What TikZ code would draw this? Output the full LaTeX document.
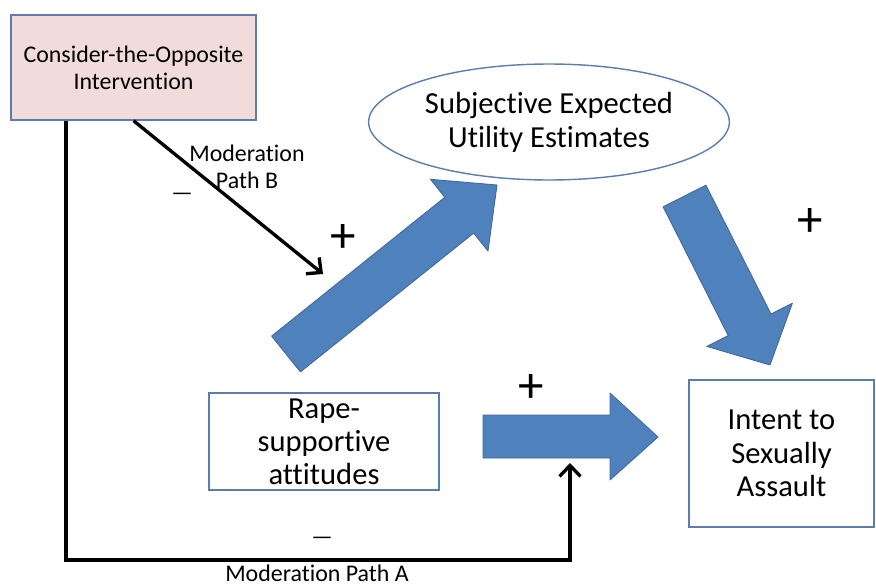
\documentclass[tikz,border=0pt]{standalone}
\usepackage{fontspec}
\setmainfont{Carlito}[Ligatures=NoCommon]
\usetikzlibrary{shapes.geometric,arrows.meta}

\definecolor{boxline}{HTML}{5A7DAE}
\definecolor{pinkfill}{HTML}{F2DCDB}
\definecolor{bigblue}{HTML}{4F81BD}
\definecolor{bigblueline}{HTML}{41699B}

\tikzset{
  varbox/.style={draw=boxline, line width=0.8pt, align=center, inner sep=2pt},
  bigarrow/.style={fill=bigblue, draw=bigblueline, line width=0.5pt, line join=round},
  modarrow/.style={line width=1.9pt, -{Straight Barb[length=2.2mm,width=4.2mm,line width=1.9pt]}},
  sign/.style={font=\fontsize{29}{29}\selectfont, inner sep=0pt},
  minussign/.style={font=\fontsize{13.5}{13.5}\selectfont, inner sep=0pt},
  modlabel/.style={font=\fontsize{13.6}{15.4}\selectfont, align=center, inner sep=0pt}
}

\begin{document}
\begin{tikzpicture}[x=0.02cm, y=-0.02cm]
	\useasboundingbox (0,0) rectangle (876,585);
	% the four variables
	\node[varbox, fill=pinkfill, minimum width=4.9cm, minimum height=2.1cm,
		font=\fontsize{13.6}{15.4}\selectfont] (intervention) at (133.5,67.5) {Consider-the-Opposite\\Intervention};
	\node[varbox, ellipse, minimum width=6.92cm, minimum height=2.32cm,
		font=\fontsize{17.4}{19.4}\selectfont] (utility) at (549,122) {Subjective Expected\\Utility Estimates};
	\node[varbox, minimum width=4.6cm, minimum height=1.94cm,
		font=\fontsize{17.4}{18.8}\selectfont] (attitudes) at (324,441.5) {Rape-\\supportive\\attitudes};
	\node[varbox, minimum width=3.7cm, minimum height=2.94cm,
		font=\fontsize{17.4}{19.2}\selectfont] (intent) at (781.5,453.5) {Intent to\\Sexually\\Assault};

	% block arrows
	\draw[bigarrow] (271.6,336.1) -- (444.8,197.3) -- (430.5,179.3) -- (497,185)
		-- (488,251.1) -- (473.6,233.1) -- (300.4,371.9) -- cycle;
	\draw[bigarrow] (663.1,206.8) -- (728.2,335.6) -- (706.8,346.4) -- (770,365)
		-- (792.4,303.2) -- (771,314) -- (705.9,185.2) -- cycle;
	\draw[bigarrow] (483,415) -- (610,415) -- (610,393) -- (658,437)
		-- (610,480) -- (610,458) -- (483,458) -- cycle;

	% moderation paths
	\coordinate (modB) at (323,274);
	\coordinate (cornerA) at (66,560);
	\coordinate (modA) at (570,463);
	\draw[modarrow] (intervention.south) -- (modB);
	\draw[modarrow] (intervention.south -| cornerA) -- (cornerA) -| (modA);

	% signs and labels
	\node[modlabel] (labelB) at (247,167) {Moderation\\Path B};
	\node[modlabel] (labelA) at (317,573) {Moderation Path A};
	\node[minussign] (minusB) at (182,197) {—};
	\node[minussign] (minusA) at (322,541) {—};
	\node[sign] (plusUp) at (343,238) {+};
	\node[sign] (plusDown) at (810,222) {+};
	\node[sign] (plusDirect) at (531,388) {+};
\end{tikzpicture}
\end{document}
